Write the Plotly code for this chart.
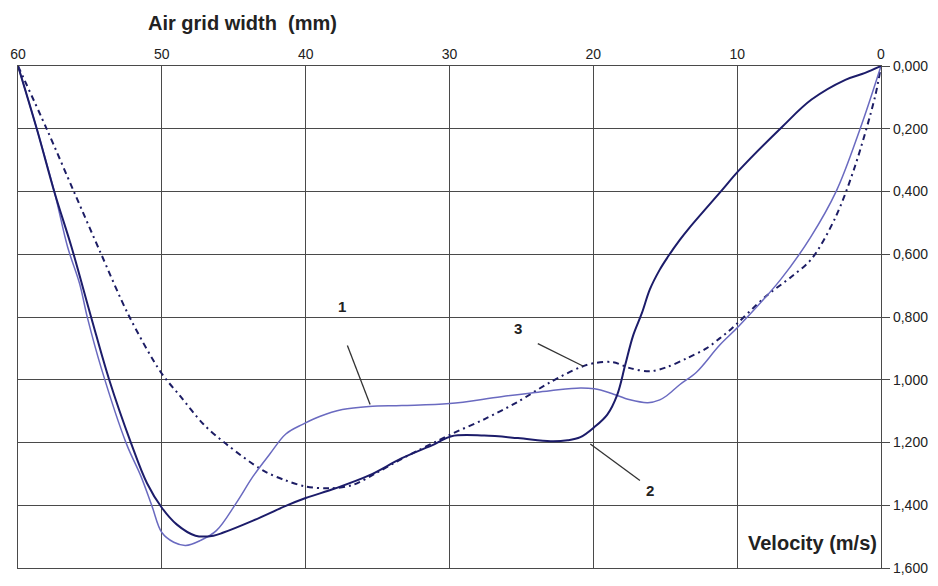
import plotly.graph_objects as go

# Curve 1 (light blue, thin)
c1_x = [60.0, 58.69, 57.45, 56.55, 55.72, 55.17, 54.21, 52.48, 51.45, 50.69, 50.0, 49.17, 48.34, 47.31,
        46.21, 44.83, 43.66, 42.48, 41.38, 40.21, 39.03, 37.45, 35.59, 33.31, 30.0, 26.41, 23.0, 20.9,
        19.93, 18.83, 17.45, 16.21, 15.38, 14.9, 14.0, 12.83, 11.24, 9.86, 6.97, 4.9, 3.1, 1.45, 0.0]
c1_y = [0.0, 0.201, 0.405, 0.577, 0.693, 0.803, 0.963, 1.202, 1.308, 1.402, 1.487, 1.518, 1.528, 1.512,
        1.481, 1.393, 1.308, 1.236, 1.173, 1.142, 1.117, 1.095, 1.085, 1.082, 1.076, 1.054, 1.035, 1.026,
        1.029, 1.042, 1.064, 1.073, 1.064, 1.051, 1.016, 0.976, 0.891, 0.828, 0.68, 0.546, 0.398, 0.2, 0.0]

# Curve 2 (dark navy, solid)
c2_x = [60.0, 58.69, 57.45, 56.28, 54.90, 53.66, 52.14, 51.03, 50.0, 48.97, 47.66, 46.41, 45.72, 43.66,
        41.38, 40.0, 37.93, 35.59, 33.31, 31.03, 29.86, 27.59, 25.24, 22.97, 21.79, 20.9, 19.93, 19.03,
        18.34, 17.79, 17.24, 16.62, 16.07, 15.38, 14.83, 14.0, 13.31, 11.1, 9.86, 6.9, 4.83, 2.48, 1.1, 0.0]
c2_y = [0.0, 0.201, 0.405, 0.577, 0.803, 1.0, 1.202, 1.33, 1.408, 1.461, 1.497, 1.497, 1.487, 1.449,
        1.402, 1.377, 1.346, 1.305, 1.25, 1.205, 1.180, 1.178, 1.186, 1.196, 1.193, 1.183, 1.151, 1.111,
        1.048, 0.954, 0.860, 0.787, 0.712, 0.649, 0.609, 0.555, 0.515, 0.398, 0.332, 0.195, 0.107, 0.044, 0.022, 0.0]

# Curve 3 (dash-dot)
c3_x = [60.0, 58.0, 56.07, 54.28, 52.28, 50.07, 48.69, 47.10, 45.52, 42.97, 41.38, 40.0, 38.34, 36.76,
        35.17, 33.31, 29.86, 27.59, 25.24, 22.97, 20.9, 19.93, 18.62, 17.45, 16.07, 14.9, 13.52, 12.14,
        11.24, 10.41, 8.0, 6.21, 4.83, 3.17, 1.79, 0.41, 0.0]
c3_y = [0.0, 0.201, 0.405, 0.593, 0.797, 0.976, 1.054, 1.142, 1.205, 1.289, 1.321, 1.340, 1.346, 1.336,
        1.299, 1.252, 1.173, 1.126, 1.070, 1.007, 0.96, 0.947, 0.944, 0.963, 0.973, 0.96, 0.932, 0.9,
        0.869, 0.838, 0.734, 0.671, 0.615, 0.483, 0.317, 0.097, 0.0]

x_ticks = [60, 50, 40, 30, 20, 10, 0]
y_ticks = [0.0, 0.2, 0.4, 0.6, 0.8, 1.0, 1.2, 1.4, 1.6]

# curve labels: (text, label x, label y, leader x0, y0, x1, y1)
labels = [
    ("1", 37.45, 0.765, 37.1, 0.891, 35.52, 1.079),
    ("3", 25.24, 0.838, 23.86, 0.885, 20.69, 0.957),
    ("2", 16.07, 1.352, 20.21, 1.205, 16.76, 1.321),
]

W, H = 938, 586
ml, mr, mt, mb = 13, 55, 66, 10
pw, ph = W - ml - mr, H - mt - mb
FONT = "Arial, Liberation Sans, Helvetica, sans-serif"

fig = go.Figure()
fig.add_trace(go.Scatter(x=c3_x, y=c3_y, mode="lines",
                         line=dict(color="#1c1c64", width=2, dash="6px,4px,2px,4px", shape="spline", smoothing=0.9)))
fig.add_trace(go.Scatter(x=c1_x, y=c1_y, mode="lines",
                         line=dict(color="#6a6ac0", width=1.5, shape="spline", smoothing=1.0)))
fig.add_trace(go.Scatter(x=c2_x, y=c2_y, mode="lines",
                         line=dict(color="#1c1c6a", width=2, shape="spline", smoothing=1.0)))

shapes = []
annotations = []
for t, lx, ly, x0, y0, x1, y1 in labels:
    shapes.append(dict(type="line", xref="x", yref="y", x0=x0, y0=y0, x1=x1, y1=y1,
                       line=dict(color="#333333", width=1.3)))
    annotations.append(dict(x=lx, y=ly, xref="x", yref="y", text="<b>%s</b>" % t, showarrow=False,
                            font=dict(family=FONT, size=15, color="#222222")))

annotations.append(dict(x=(239 - ml) / pw, y=(H - mb - 22) / ph, xref="paper", yref="paper",
                        xanchor="center", yanchor="middle", text="<b>Air grid width  (mm)</b>",
                        showarrow=False, font=dict(family=FONT, size=20, color="#222222")))
annotations.append(dict(x=(881 - ml) / pw, y=(H - mb - 551) / ph, xref="paper", yref="paper",
                        xanchor="right", yanchor="middle", text="<b>Velocity (m/s)</b>",
                        showarrow=False, font=dict(family=FONT, size=20, color="#222222")))

fig.update_layout(
    width=W, height=H,
    margin=dict(l=ml, r=mr, t=mt, b=mb),
    paper_bgcolor="white", plot_bgcolor="white",
    showlegend=False,
    separators=",.",
    shapes=shapes,
    annotations=annotations,
    font=dict(family=FONT, size=12, color="#222222"),
)
fig.update_xaxes(range=[60, 0], side="top", tickvals=x_ticks, ticktext=[str(v) for v in x_ticks],
                 showgrid=True, gridcolor="#4a4a4a", gridwidth=1.3,
                 showline=True, linecolor="#4a4a4a", linewidth=1.3, mirror=True,
                 ticks="", zeroline=False, tickfont=dict(family=FONT, size=14, color="#222222"))
fig.update_yaxes(range=[1.6, 0], side="right", tickvals=y_ticks, tickformat=".3f",
                 showgrid=True, gridcolor="#4a4a4a", gridwidth=1.3,
                 showline=True, linecolor="#4a4a4a", linewidth=1.3, mirror=True,
                 ticks="outside", ticklen=8, tickcolor="#4a4a4a", zeroline=False,
                 tickfont=dict(family=FONT, size=14, color="#222222"))

fig.write_html("out.html")
